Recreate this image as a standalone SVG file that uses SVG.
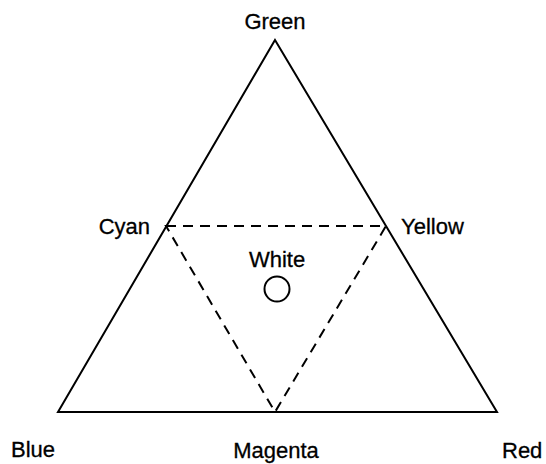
<svg xmlns="http://www.w3.org/2000/svg" width="546" height="464" viewBox="0 0 546 464">
<style>
.t{font-family:"Liberation Sans",Arial,sans-serif;font-size:22px;fill:#000;stroke:#000;stroke-width:0.3}
.solid{fill:none;stroke:#000;stroke-width:2;stroke-linejoin:miter}
.dash{fill:none;stroke:#000;stroke-width:2;stroke-dasharray:10 7}
</style>
<rect width="546" height="464" fill="#fff"/>
<g id="connectors">
<polygon class="solid" points="275,40 497,412 58,412"/>
<polygon class="dash" points="166,226 386,226 275,412"/>
</g>
<g id="green"><text class="t" x="275" y="29" text-anchor="middle">Green</text></g>
<g id="cyan"><text class="t" x="150" y="234" text-anchor="end">Cyan</text></g>
<g id="yellow"><text class="t" x="401" y="234">Yellow</text></g>
<g id="white"><text class="t" x="277" y="267" text-anchor="middle">White</text><circle cx="277" cy="289" r="12.5" fill="none" stroke="#000" stroke-width="2"/></g>
<g id="blue"><text class="t" x="11" y="457">Blue</text></g>
<g id="magenta"><text class="t" x="276" y="458" text-anchor="middle">Magenta</text></g>
<g id="red"><text class="t" x="502" y="458">Red</text></g>
</svg>
